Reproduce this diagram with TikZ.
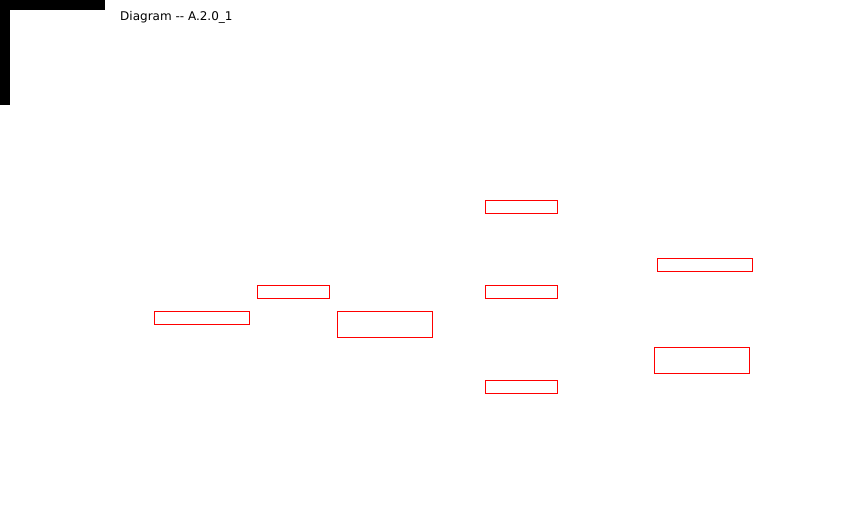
\documentclass[tikz,border=0pt]{standalone}
\usepackage{fontspec}
\newfontfamily\dv{DejaVu Sans}
\begin{document}
\begin{tikzpicture}[x=1pt,y=-1pt,
  redbox/.style={draw=red,line width=1pt,inner sep=0pt,outer sep=0pt,minimum width=#1},
  redbox/.default=72pt,
  lowbox/.style={minimum height=13pt},
  tallbox/.style={minimum height=26pt}]
\useasboundingbox (0,0) rectangle (868,520);
\fill[black] (0,0) rectangle (105,10);
\fill[black] (0,0) rectangle (10,105);
\node[anchor=base west,inner sep=0pt,font=\dv\fontsize{12pt}{14pt}\selectfont] (title) at (120,20) {Diagram -{}- A.2.0\_1};
\node[redbox,lowbox] (b1) at (521.5,207) {};
\node[redbox,lowbox] (b2) at (293.5,292) {};
\node[redbox=95pt,tallbox] (b3) at (385,324.5) {};
\node[redbox=95pt,lowbox] (b4) at (202,318) {};
\node[redbox=95pt,lowbox] (b5) at (705,265) {};
\node[redbox=95pt,tallbox] (b6) at (702,360.5) {};
\node[redbox,lowbox] (b7) at (521.5,292) {};
\node[redbox,lowbox] (b8) at (521.5,387) {};
\end{tikzpicture}
\end{document}
